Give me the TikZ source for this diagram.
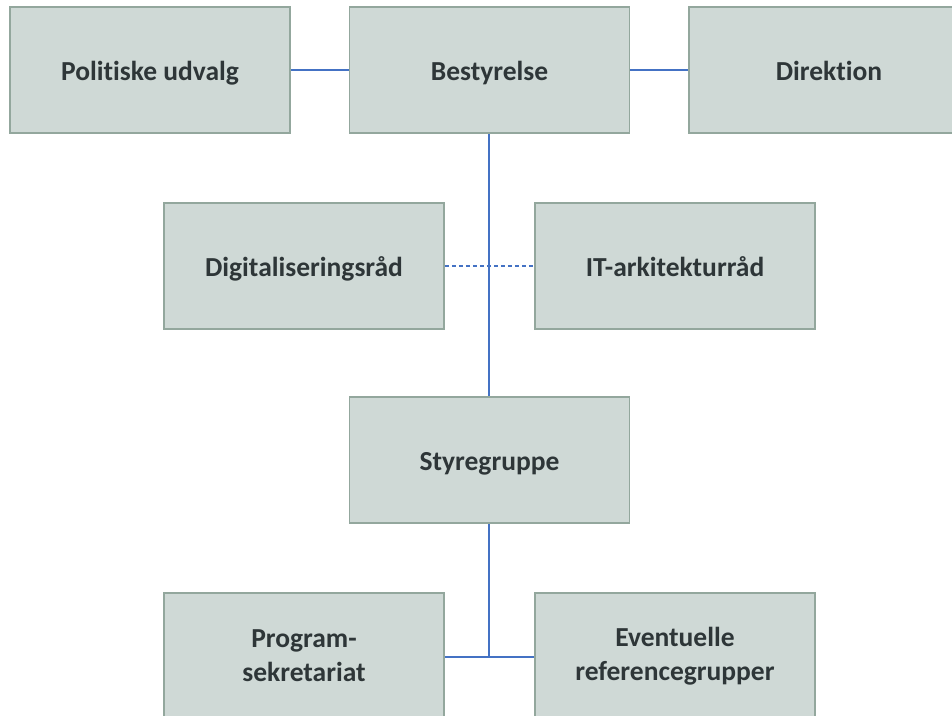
\documentclass[tikz,border=0pt]{standalone}
\usepackage{fontspec}
\setmainfont{Carlito}[Ligatures=NoCommon]
\definecolor{boxfill}{HTML}{CFD9D6}
\definecolor{boxline}{HTML}{93A79D}
\definecolor{linkblue}{HTML}{4472C4}
\definecolor{txt}{HTML}{2E3638}
\tikzset{
  boxfont/.style={font=\fontsize{27.5}{34}\selectfont\bfseries, text=txt},
  orgbox/.style={draw=boxline, line width=1.5pt, fill=boxfill, minimum width=280pt, minimum height=126pt, inner sep=0pt, align=center, boxfont},
  oneline/.style={text height=21.4pt, text depth=0pt},
  link/.style={draw=linkblue, line width=1.3pt},
}
\begin{document}
\begin{tikzpicture}[x=1pt,y=-1pt]
\useasboundingbox (0,0) rectangle (952,715);
\clip (0,0) rectangle (952,715);
\node[orgbox, oneline] (pol) at (150,70) {Politiske udvalg};
\node[orgbox, oneline] (best) at (489.5,70) {Bestyrelse};
\node[orgbox, minimum width=290pt] (dir) at (834,70) {};
\node[boxfont, oneline, inner sep=0pt] (dirt) at (829,70) {Direktion};
\node[orgbox, oneline] (dig) at (304,266) {Digitaliseringsråd};
\node[orgbox, oneline] (it) at (675,266) {IT-arkitekturråd};
\node[orgbox, oneline] (sty) at (489.5,460) {Styregruppe};
\node[orgbox] (prog) at (304,656) {Program-\\sekretariat};
\node[orgbox] (ev) at (675,656) {Eventuelle\\referencegrupper};
\coordinate (j1) at (489,266);
\coordinate (j2) at (489,657);
\draw[link] (pol.east) -- (best.west);
\draw[link] (best.east) -- (dir.west);
\draw[link] (best.south -| j1) -- (sty.north -| j1);
\draw[link, dashed, dash pattern=on 4pt off 3pt] (dig.east) -- (it.west);
\draw[link] (sty.south -| j2) -- (j2);
\draw[link] (prog.east |- j2) -- (ev.west |- j2);
\end{tikzpicture}
\end{document}
